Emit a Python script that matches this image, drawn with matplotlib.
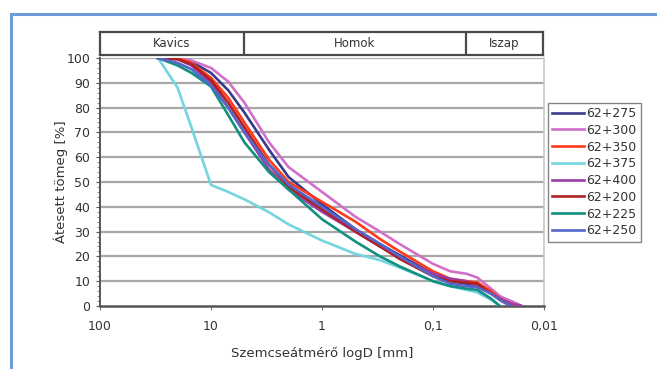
import numpy as np
import matplotlib.pyplot as plt
from matplotlib.patches import Rectangle
from matplotlib.ticker import FixedLocator, MultipleLocator

plt.rcParams['font.family'] = 'DejaVu Sans'

# ================= DATA =================
# grain diameters [mm], shared by every sample
D_MM = [30, 20, 15, 10, 7, 5, 3, 2, 1, 0.5, 0.3, 0.2, 0.1, 0.07, 0.05, 0.04,
        0.03, 0.025, 0.02, 0.016]

nan = np.nan
P_275 = [100, 100, 98.5, 94, 87, 78, 63, 52, 41, 31, 25, 20.5, 13, 10, 9, 8, 5.5, 3.5, 2, 0]
P_300 = [100, 100, 99, 96, 90.5, 82, 66, 56, 46, 36, 30, 25, 17, 14, 13, 11.5, 7, 4, 2, 0]
P_350 = [100, 100, 98, 92, 84, 74, 59, 50, 42, 34, 27, 22, 14, 11, 10, 9.5, 6, 3, 1, 0]
P_375 = [100, 88, 72, 48.8, 46, 43, 37.8, 32.9, 26.4, 21, 18.5, 15.5, 10, 8, 6.5, 5.5, 2.5, 0, nan, nan]
P_400 = [100, 99.5, 97, 90, 80, 70, 55, 47, 38, 30, 24, 19.5, 13, 11, 10, 8, 5, 3, 1, 0]
P_200 = [100, 99.5, 97.5, 91, 82, 72, 57, 48, 39, 30, 24, 19, 12, 10, 9.5, 9, 5, 2.5, 0, nan]
P_225 = [100, 97, 94, 88.5, 77, 66, 54, 47, 35, 26, 20, 16, 10, 8, 7, 6.5, 3, 0, nan, nan]
P_250 = [100, 98, 95.5, 89, 80, 70, 57, 49, 40, 31, 25, 20, 12, 9, 8, 7.5, 5, 2.5, 0, nan]

SERIES = ["62+275", "62+300", "62+350", "62+375", "62+400", "62+200", "62+225", "62+250"]
VALUES = [P_275, P_300, P_350, P_375, P_400, P_200, P_225, P_250]
COLORS = ["#3a3a8c", "#d070c8", "#ff3a1a", "#74d4e0",
          "#9b3fa8", "#b02020", "#119080", "#5566cc"]

# soil class bands on top, limits in mm
BANDS = ["Kavics", "Homok", "Iszap"]
BAND_LIMITS = [100, 5, 0.05, 0.01]

Y_TICKS = list(range(0, 101, 10))
X_TICKS = [100, 10, 1, 0.1, 0.01]
X_LABELS = ["100", "10", "1", "0,1", "0,01"]

TXT = "#333333"

# ================= FIGURE =================
fig = plt.figure(figsize=(6.57, 3.69), dpi=100, facecolor='white')

# blue frame around the chart
fig.patches.append(Rectangle((11 / 657, -0.05), 1.0, 1 - 14 / 369 + 0.05,
                             transform=fig.transFigure, fill=False,
                             edgecolor="#6f9bd6", linewidth=2.2, zorder=0))

ax = fig.add_axes([100 / 657, 63 / 369, 444 / 657, 248 / 369])
ax.set_xscale('log')
ax.set_xlim(100, 0.01)
ax.set_ylim(0, 100)

for y in Y_TICKS[1:]:
    ax.axhline(y, color="#a8a8a8", linewidth=1.6, zorder=1)

for name, vals, col in zip(SERIES, VALUES, COLORS):
    ax.plot(D_MM, vals, color=col, linewidth=1.9, label=name, zorder=3)

ax.spines['top'].set_visible(False)
ax.spines['right'].set_color("#c8c8c8")
ax.spines['right'].set_linewidth(1.2)
ax.spines['left'].set_color("#555555")
ax.spines['bottom'].set_color("#555555")
ax.spines['left'].set_linewidth(1.4)
ax.spines['bottom'].set_linewidth(1.8)

ax.yaxis.set_major_locator(FixedLocator(Y_TICKS))
ax.yaxis.set_minor_locator(MultipleLocator(2))
ax.tick_params(axis='y', which='major', length=3, color="#555555", labelsize=9,
               labelcolor=TXT, pad=4)
ax.tick_params(axis='y', which='minor', length=2, color="#777777")
ax.xaxis.set_major_locator(FixedLocator(X_TICKS))
ax.xaxis.set_minor_locator(FixedLocator([]))
ax.set_xticklabels(X_LABELS)
ax.tick_params(axis='x', which='major', length=3, color="#777777", labelsize=9,
               labelcolor=TXT, pad=7)

ax.set_xlabel("Szemcseátmérő logD [mm]", fontsize=9.5, color=TXT, labelpad=10)
ax.set_ylabel("Átesett tömeg [%]", fontsize=9.5, color=TXT, labelpad=-1)

leg = ax.legend(loc='upper left', bbox_to_anchor=(1.009, 0.82), fontsize=9,
                frameon=True, fancybox=False, edgecolor="#666666",
                handlelength=2.5, handletextpad=0.2, labelspacing=0.3,
                borderpad=0.35, borderaxespad=0)
leg.get_frame().set_linewidth(1.0)
for t in leg.get_texts():
    t.set_color(TXT)

# header strip with soil classes
hx = fig.add_axes([100 / 657, 314 / 369, 443 / 657, 23 / 369])
hx.set_xscale('log')
hx.set_xlim(100, 0.01)
hx.set_ylim(0, 1)
hx.set_xticks([])
hx.set_yticks([])
hx.minorticks_off()
for s in hx.spines.values():
    s.set_color("#4a4a4a")
    s.set_linewidth(1.6)
for i, name in enumerate(BANDS):
    lo, hi = BAND_LIMITS[i], BAND_LIMITS[i + 1]
    if i > 0:
        hx.axvline(lo, color="#4a4a4a", linewidth=1.6)
    hx.text(np.sqrt(lo * hi), 0.5, name, ha='center', va='center',
            fontsize=8.5, color=TXT)

fig.savefig("out.png", dpi=100, facecolor='white')
